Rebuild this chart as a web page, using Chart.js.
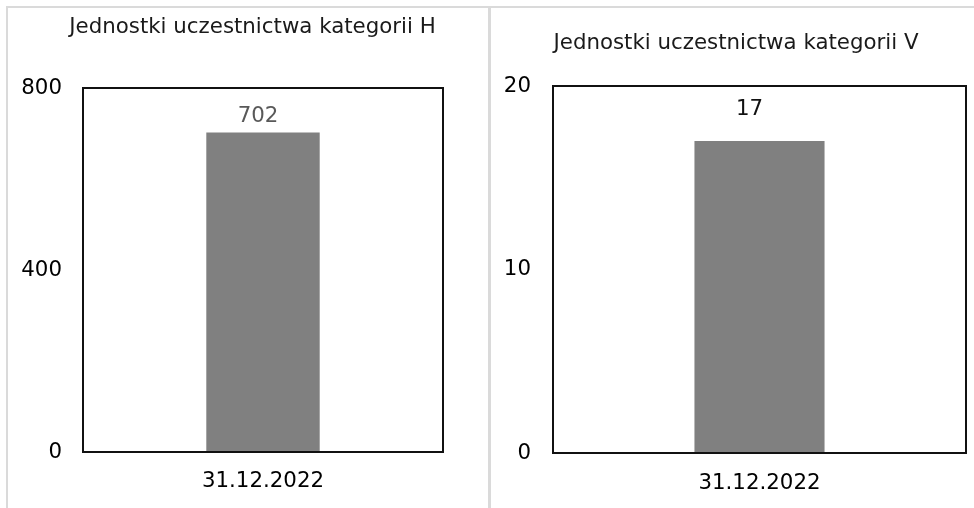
<!DOCTYPE html>
<html>
<head>
<meta charset="utf-8">
<script src="https://cdn.jsdelivr.net/npm/chart.js@4.4.0/dist/chart.umd.min.js"></script>
<style>
  html, body { margin: 0; padding: 0; background: #fff; }
  body { width: 974px; height: 508px; position: relative; overflow: hidden; }
  .line { position: absolute; background: #dadada; }
  canvas { position: absolute; top: 0; }
</style>
</head>
<body>
<div class="line" style="left:6px; top:6px; width:968px; height:2px;"></div>
<div class="line" style="left:6px; top:6px; width:2px; height:502px;"></div>
<div class="line" style="left:488px; top:6px; width:3px; height:502px;"></div>
<div style="position:absolute; left:0; top:0; width:488px; height:508px;"><canvas id="c1"></canvas></div>
<div style="position:absolute; left:491px; top:0; width:483px; height:508px;"><canvas id="c2"></canvas></div>
<script>
const categories = ['31.12.2022'];
const titleH = 'Jednostki uczestnictwa kategorii H';
const titleV = 'Jednostki uczestnictwa kategorii V';
const valuesH = [702];
const valuesV = [17];
const ticksH = [0, 400, 800];
const ticksV = [0, 10, 20];

const FONT = "'DejaVu Sans', Verdana, sans-serif";

const boxPlugin = {
  id: 'plotBox',
  afterDatasetsDraw(chart) {
    const a = chart.chartArea;
    const ctx = chart.ctx;
    ctx.save();
    ctx.strokeStyle = '#111';
    ctx.lineWidth = 2;
    ctx.strokeRect(a.left, a.top, a.right - a.left, a.bottom - a.top);
    ctx.restore();
  }
};

const extrasPlugin = {
  id: 'extras',
  afterDraw(chart, args, opts) {
    const ctx = chart.ctx;
    ctx.save();
    ctx.font = '21.33px ' + FONT;
    ctx.fillStyle = '#1a1a1a';
    ctx.textAlign = 'center';
    ctx.textBaseline = 'alphabetic';
    ctx.fillText(opts.title, opts.titleX, opts.titleY);
    const meta = chart.getDatasetMeta(0);
    const ds = chart.data.datasets[0];
    ctx.fillStyle = opts.labelColor;
    ctx.textBaseline = 'middle';
    meta.data.forEach((bar, i) => {
      ctx.fillText(String(ds.data[i]), bar.x + opts.labelDx, bar.y - opts.labelOffset);
    });
    ctx.restore();
  }
};

function makeChart(id, values, ticks, cfg) {
  return new Chart(document.getElementById(id), {
    type: 'bar',
    data: {
      labels: categories,
      datasets: [{
        data: values,
        backgroundColor: '#808080',
        borderWidth: 0,
        barPercentage: 0.315,
        categoryPercentage: 1.0
      }]
    },
    options: {
      responsive: true,
      maintainAspectRatio: false,
      animation: false,
      events: [],
      layout: { padding: { left: 0, right: cfg.padRight, top: cfg.padTop, bottom: 0 } },
      plugins: {
        legend: { display: false },
        title: { display: false },
        tooltip: { enabled: false },
        extras: cfg.extras
      },
      scales: {
        x: {
          grid: { display: false, drawTicks: false },
          border: { display: false },
          ticks: { color: '#000', font: { family: FONT, size: 21.33 }, padding: cfg.xPad, maxRotation: 0 },
          afterFit(scale) { scale.height = cfg.xHeight; }
        },
        y: {
          min: ticks[0],
          max: ticks[ticks.length - 1],
          grid: { display: false, drawTicks: false },
          border: { display: false },
          afterBuildTicks(scale) { scale.ticks = ticks.map(v => ({ value: v })); },
          ticks: { color: '#000', font: { family: FONT, size: 21.33 }, padding: cfg.yPad },
          afterFit(scale) { scale.width = cfg.yWidth; }
        }
      }
    },
    plugins: [boxPlugin, extrasPlugin]
  });
}

makeChart('c1', valuesH, ticksH, {
  padRight: 45, padTop: 88, xHeight: 56, yWidth: 83, xPad: 17, yPad: 21,
  extras: { title: titleH, titleX: 252.5, titleY: 33, labelColor: '#595959', labelOffset: 16, labelDx: -5 }
});
makeChart('c2', valuesV, ticksV, {
  padRight: 8, padTop: 86, xHeight: 55, yWidth: 62, xPad: 18, yPad: 22,
  extras: { title: titleV, titleX: 245, titleY: 49, labelColor: '#111', labelOffset: 32, labelDx: -10 }
});
</script>
</body>
</html>
